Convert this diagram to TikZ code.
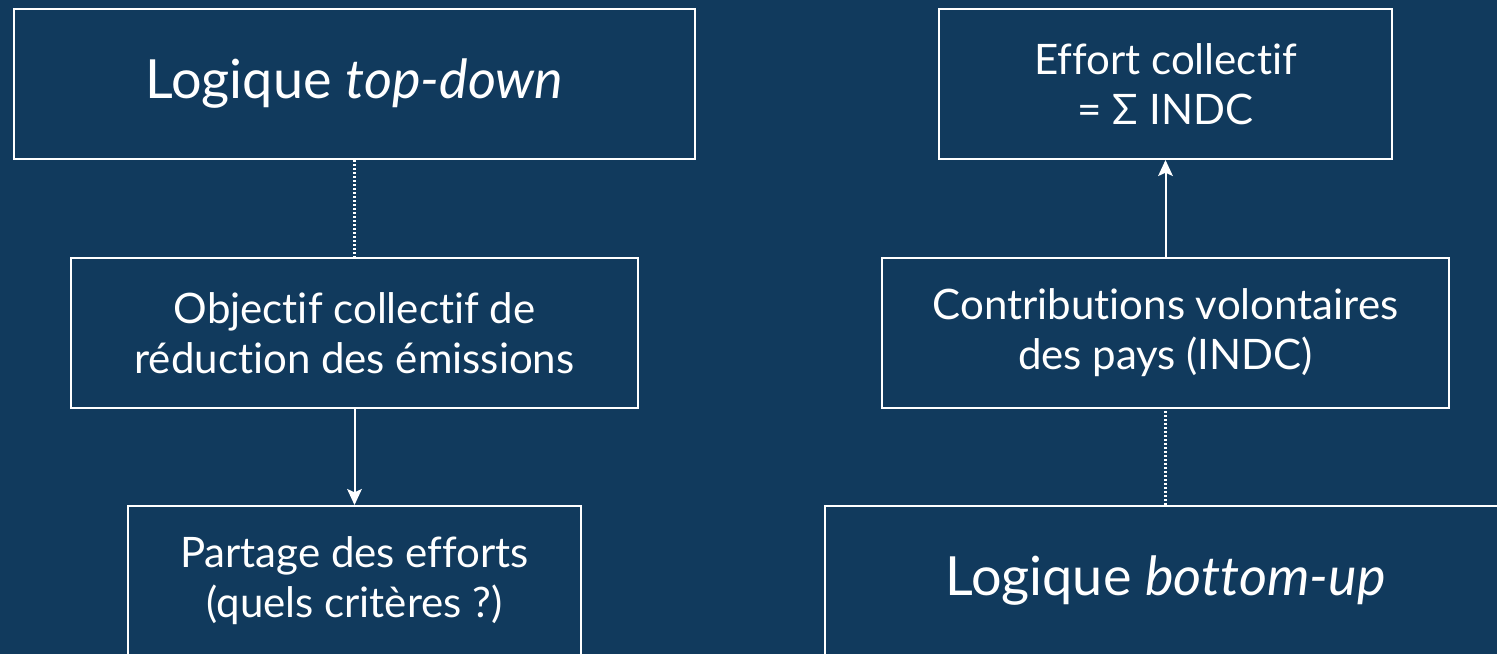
\documentclass[tikz,border=0pt]{standalone}
\usepackage{fontspec}
\setmainfont{Lato}[Ligatures=NoCommon]
\usetikzlibrary{arrows.meta}
\definecolor{fondbleu}{RGB}{17,58,93}

\begin{document}
\begin{tikzpicture}[x=0.75pt,y=0.75pt,yscale=-1,xscale=1,
	boite/.style={draw=white, line width=1.5pt, text=white, align=center, inner sep=0pt, minimum height=112.5pt},
	grand/.style={font=\fontsize{40.5}{48}\selectfont},
	petit/.style={font=\fontsize{31.5}{37.5}\selectfont},
	fleche/.style={draw=white, line width=1.5pt, -{Stealth[length=12pt,width=11pt,inset=2.5pt]}},
	pointille/.style={draw=white, line width=1.6pt, dash pattern=on 1.5pt off 1.5pt}]
	\fill [fondbleu] (0,0) rectangle (1497,654);
	\useasboundingbox (0,0) rectangle (1497,654);
	\clip (0,0) rectangle (1497,654);
	% top-down
	\node [boite, grand, minimum width=510.75pt] (topdown) at (354.5,84) {Logique \textit{top-down}};
	\node [boite, petit, minimum width=425.25pt] (objectif) at (354.5,333) {Objectif collectif de\\réduction des émissions};
	\node [boite, petit, minimum width=339.75pt] (partage) at (354.5,581) {Partage des efforts\\(quels critères ?)};
	% bottom-up
	\node [boite, petit, minimum width=339.75pt] (effort) at (1165.5,84) {Effort collectif\\= Σ INDC};
	\node [boite, petit, minimum width=425.25pt] (contrib) at (1165.5,333) {Contributions volontaires\\des pays (INDC)};
	\node [boite, grand, minimum width=510.75pt] (bottomup) at (1165.5,581) {Logique \textit{bottom-up}};
	\draw [pointille] (topdown) -- (objectif);
	\draw [fleche] (objectif) -- (partage);
	\draw [pointille] (bottomup) -- (contrib);
	\draw [fleche] (contrib) -- (effort);
\end{tikzpicture}
\end{document}
